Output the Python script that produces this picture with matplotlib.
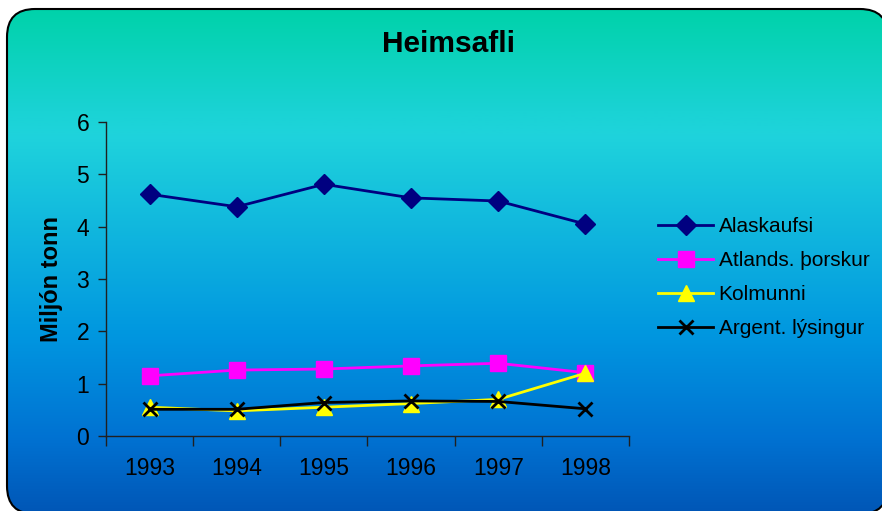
import numpy as np
import matplotlib
matplotlib.use("Agg")
import matplotlib.pyplot as plt
from matplotlib.patches import FancyBboxPatch, Polygon
from matplotlib.colors import LinearSegmentedColormap

plt.rcParams['font.family'] = ['Liberation Sans', 'DejaVu Sans']

# catch in million tonnes
years = ['1993', '1994', '1995', '1996', '1997', '1998']
alaskaufsi = [4.62, 4.38, 4.81, 4.55, 4.49, 4.05]
atlands_thorskur = [1.15, 1.26, 1.28, 1.34, 1.39, 1.21]
kolmunni = [0.55, 0.48, 0.55, 0.62, 0.70, 1.20]
argent_lysingur = [0.51, 0.51, 0.64, 0.67, 0.66, 0.52]

W, H = 882, 511
fig = plt.figure(figsize=(W / 100, H / 100), dpi=100)
fig.patch.set_facecolor('white')

# rounded gradient panel behind the plot (pixel coords, y up)
bg = fig.add_axes([0, 0, 1, 1])
bg.set_xlim(0, W)
bg.set_ylim(0, H)
bg.axis('off')
grad = LinearSegmentedColormap.from_list('panel', [
    (0.00, '#00d2aa'),
    (0.20, '#1ad3d4'),
    (0.25, '#1fd3dc'),
    (0.65, '#0096e0'),
    (0.85, '#0072d2'),
    (1.00, '#0056b6'),
])
g = np.linspace(0, 1, 256).reshape(-1, 1)
im = bg.imshow(g, cmap=grad, aspect='auto', origin='upper',
               extent=[7, W + 6, -3, H - 9], interpolation='bilinear')
# flatten the rounded box to straight segments so canvas clipping stays clean
box = FancyBboxPatch((7, -3), W - 1, H - 6,
                     boxstyle='round,pad=0,rounding_size=28')
verts = box.get_path().to_polygons()[0]
panel = Polygon(verts, closed=True, facecolor='none', edgecolor='black',
                linewidth=1.5, clip_on=False)
bg.add_patch(panel)
im.set_clip_path(panel)

bg.text(448, H - 44, 'Heimsafli', ha='center', va='center',
        fontsize=21.5, fontweight='bold')

ax = fig.add_axes([106 / W, 1 - 436 / H, 523 / W, 314 / H])
ax.patch.set_alpha(0)
x = np.arange(len(years))
ax.plot(x, alaskaufsi, color='#000080', lw=2, marker='D', ms=10,
        label='Alaskaufsi')
ax.plot(x, atlands_thorskur, color='#ff00ff', lw=2, marker='s', ms=11,
        label='Atlands. þorskur')
ax.plot(x, kolmunni, color='#ffff00', lw=2, marker='^', ms=12,
        label='Kolmunni')
ax.plot(x, argent_lysingur, color='black', lw=2, marker='x', ms=10, mew=2,
        label='Argent. lýsingur')

ax.set_xlim(-0.5, len(years) - 0.5)
ax.set_ylim(0, 6)
ax.set_yticks(range(7))
ax.set_xticks(np.arange(-0.5, len(years)), [])
ax.set_xticks(x, years, minor=True)
ax.tick_params(axis='x', which='major', length=7, width=1, color='#202020')
ax.tick_params(axis='x', which='minor', length=0, pad=15, labelsize=16.5)
ax.tick_params(axis='y', length=6, width=1, color='#202020', labelsize=16.5,
               pad=6)
for s in ('top', 'right'):
    ax.spines[s].set_visible(False)
for s in ('left', 'bottom'):
    ax.spines[s].set_color('#202020')
    ax.spines[s].set_linewidth(1)

ax.set_ylabel('Miljón tonn', fontsize=17, fontweight='bold', labelpad=10)

leg = ax.legend(loc='center left', bbox_to_anchor=(1.04, 0.505), frameon=False,
                fontsize=15, handlelength=2.65, handletextpad=0.25,
                labelspacing=0.72, borderaxespad=0)

fig.savefig('out.png', dpi=100)
